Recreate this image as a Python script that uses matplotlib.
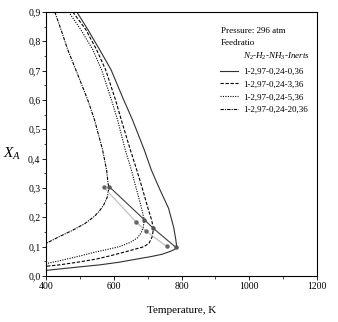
import numpy as np
import matplotlib
matplotlib.use('Agg')
import matplotlib.pyplot as plt
from matplotlib.ticker import MultipleLocator, FuncFormatter

plt.rcParams['font.family'] = ['Liberation Serif', 'DejaVu Serif']
plt.rcParams['mathtext.fontset'] = 'custom'
plt.rcParams['mathtext.it'] = 'Liberation Serif:italic'
plt.rcParams['mathtext.rm'] = 'Liberation Serif'

# curve data (T [K], X_A): upper branch from the top down to the nose, then lower branch back to 400 K
T_solid = [491, 523, 558, 592, 629, 655, 690, 711, 734, 762, 777, 783, 786,
           779, 765, 743, 710, 675, 617, 560, 500, 450, 400]
X_solid = [0.90, 0.841, 0.772, 0.703, 0.601, 0.533, 0.430, 0.361, 0.30, 0.230, 0.165, 0.125, 0.098,
           0.090, 0.083, 0.074, 0.066, 0.059, 0.047, 0.038, 0.031, 0.025, 0.019]

T_dash = [479, 517, 549, 576, 605, 622, 649, 668, 684, 700, 712, 717,
          714, 705, 690, 665, 640, 617, 587, 550, 500, 441, 400]
X_dash = [0.90, 0.841, 0.772, 0.703, 0.601, 0.533, 0.430, 0.361, 0.30, 0.235, 0.19, 0.162,
          0.135, 0.113, 0.100, 0.092, 0.084, 0.077, 0.068, 0.058, 0.048, 0.038, 0.033]

T_dot = [467, 502, 538, 564, 593, 611, 634, 652, 666, 679, 690,
         687, 680, 670, 650, 617, 580, 543, 500, 441, 400]
X_dot = [0.90, 0.841, 0.772, 0.703, 0.601, 0.533, 0.430, 0.361, 0.30, 0.245, 0.192,
         0.165, 0.145, 0.130, 0.115, 0.100, 0.090, 0.081, 0.068, 0.052, 0.042]

T_dashdot = [426, 444, 464, 488, 523, 543, 567, 579, 583, 586,
             581, 570, 558, 543, 514, 479, 441, 400]
X_dashdot = [0.90, 0.841, 0.772, 0.703, 0.601, 0.533, 0.430, 0.361, 0.317, 0.30,
             0.269, 0.241, 0.222, 0.203, 0.178, 0.156, 0.135, 0.111]

# nose points (dark line) and second set of points (light line)
T_dark = [587, 690, 717, 784]
X_dark = [0.304, 0.192, 0.162, 0.097]
T_light = [571, 666, 695, 756]
X_light = [0.302, 0.184, 0.153, 0.101]

labels = ['1-2,97-0,24-0,36', '1-2,97-0,24-3,36',
          '1-2,97-0,24-5,36', '1-2,97-0,24-20,36']

fig = plt.figure(figsize=(3.38, 3.22), dpi=100)
ax = fig.add_axes([0.136, 0.143, 0.802, 0.820])

lw = 0.8
l1, = ax.plot(T_solid, X_solid, '-', color='#303030', lw=lw)
l2, = ax.plot(T_dash, X_dash, color='black', lw=lw, dashes=(3, 1.5))
l3, = ax.plot(T_dot, X_dot, color='black', lw=lw, dashes=(1, 1.2))
l4, = ax.plot(T_dashdot, X_dashdot, color='black', lw=lw, dashes=(3, 1, 1, 1))

ax.plot(T_light, X_light, '-', color='#bbbbbb', lw=0.8, marker='o', ms=2.2,
        mfc='#666666', mec='#666666')
ax.plot(T_dark, X_dark, '-', color='#404040', lw=0.8, marker='o', ms=2.2,
        mfc='#555555', mec='#555555')

ax.set_xlim(400, 1200)
ax.set_ylim(0, 0.9)
ax.xaxis.set_major_locator(MultipleLocator(200))
ax.xaxis.set_minor_locator(MultipleLocator(100))
ax.yaxis.set_major_locator(MultipleLocator(0.1))
ax.yaxis.set_minor_locator(MultipleLocator(0.05))
ax.yaxis.set_major_formatter(FuncFormatter(lambda v, p: ('%.1f' % v).replace('.', ',')))
ax.tick_params(which='major', direction='out', length=3, width=0.6, labelsize=7, pad=1)
ax.tick_params(which='minor', direction='out', length=1.8, width=0.5)
for s in ax.spines.values():
    s.set_linewidth(0.8)

ax.set_xlabel('Temperature, K', fontsize=8, labelpad=11)
ax.set_ylabel('$X_A$', fontsize=11, rotation=0)
ax.yaxis.set_label_coords(-0.125, 0.43)

ax.text(0.646, 0.929, 'Pressure: 296 atm', transform=ax.transAxes, fontsize=6.5, va='center')
ax.text(0.646, 0.883, 'Feedratio', transform=ax.transAxes, fontsize=6.5, va='center')
ax.text(0.727, 0.830, '$N_2$-$H_2$-$NH_3$-$Inerts$', transform=ax.transAxes,
        fontsize=6.5, va='center')
ax.legend([l1, l2, l3, l4], labels, loc='upper left', bbox_to_anchor=(0.642, 0.79),
          frameon=False, fontsize=6.5, handlelength=2.0, handletextpad=0.55,
          labelspacing=0.5, borderaxespad=0, borderpad=0)

fig.savefig('out.png', dpi=100)
